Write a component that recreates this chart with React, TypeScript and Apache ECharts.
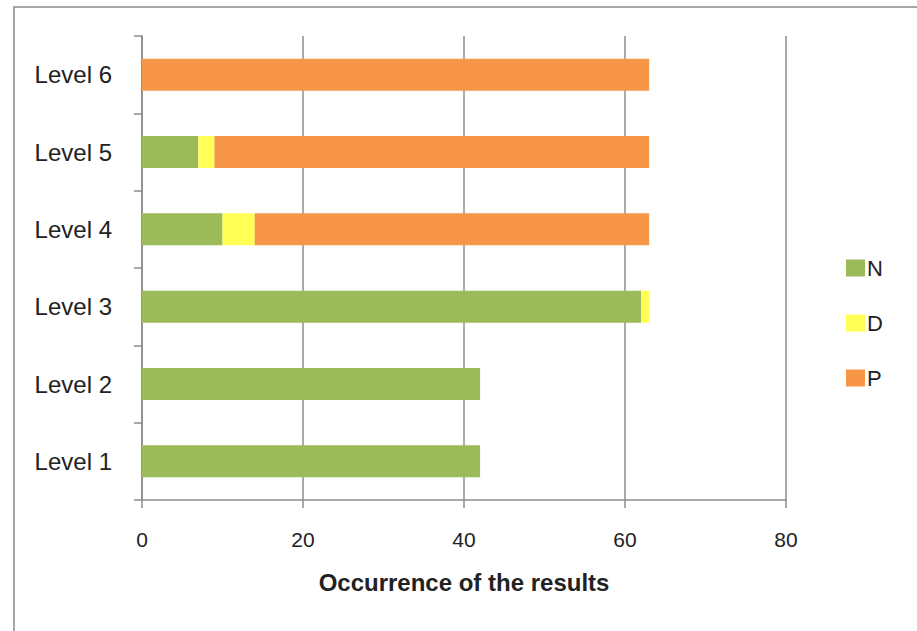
import React, { useEffect, useRef } from "react";
import * as echarts from "echarts";

const categories = ["Level 1", "Level 2", "Level 3", "Level 4", "Level 5", "Level 6"];
const seriesN = [42, 42, 62, 10, 7, 0];
const seriesD = [0, 0, 1, 4, 2, 0];
const seriesP = [0, 0, 0, 49, 54, 63];
const xTicks = { min: 0, max: 80, interval: 20 };

const FONT = "'Liberation Sans', Arial, sans-serif";

export default function App() {
  const ref = useRef<HTMLDivElement>(null);
  useEffect(() => {
    if (!ref.current) return;
    const chart = echarts.init(ref.current, null, { renderer: "svg" });
    const mk = (name: string, data: number[], color: string) => ({
      name,
      type: "bar",
      stack: "total",
      data,
      barWidth: 32,
      itemStyle: { color },
      emphasis: { disabled: true },
    });
    chart.setOption({
      animation: false,
      backgroundColor: "#ffffff",
      textStyle: { fontFamily: FONT },
      graphic: [
        {
          type: "rect",
          shape: { x: 14, y: 7, width: 1000, height: 1000 },
          style: { fill: "none", stroke: "#8c8c8c", lineWidth: 1.5 },
          silent: true,
        },
      ],
      grid: { left: 142, right: 131, top: 36, bottom: 131 },
      legend: {
        orient: "vertical",
        left: 841,
        top: 252,
        itemWidth: 19,
        itemHeight: 17,
        itemGap: 33,
        icon: "rect",
        textStyle: { fontSize: 22, color: "#222", fontFamily: FONT, padding: [0, 0, 0, -3] },
        data: ["N", "D", "P"],
      },
      xAxis: {
        type: "value",
        min: xTicks.min,
        max: xTicks.max,
        interval: xTicks.interval,
        name: "Occurrence of the results",
        nameLocation: "middle",
        nameGap: 70,
        nameTextStyle: { fontSize: 24, fontWeight: "bold", color: "#222", fontFamily: FONT },
        axisLine: { show: true, lineStyle: { color: "#8c8c8c", width: 1.5 } },
        axisTick: { show: true, length: 8, lineStyle: { color: "#8c8c8c", width: 1.5 } },
        axisLabel: { fontSize: 21, color: "#222", margin: 29, fontFamily: FONT },
        splitLine: { show: true, lineStyle: { color: "#8c8c8c", width: 1.5 } },
      },
      yAxis: {
        type: "category",
        data: categories,
        axisLine: { show: true, lineStyle: { color: "#8c8c8c", width: 1.5 } },
        axisTick: { show: true, length: 8, lineStyle: { color: "#8c8c8c", width: 1.5 } },
        axisLabel: { fontSize: 24, color: "#222", margin: 30, fontFamily: FONT },
      },
      series: [
        mk("N", seriesN, "#9bbb59"),
        mk("D", seriesD, "#ffff55"),
        mk("P", seriesP, "#f79646"),
      ],
    });
    return () => chart.dispose();
  }, []);
  return (
    <div
      ref={ref}
      style={{ position: "absolute", left: 0, top: 0, width: 917, height: 631 }}
    />
  );
}
